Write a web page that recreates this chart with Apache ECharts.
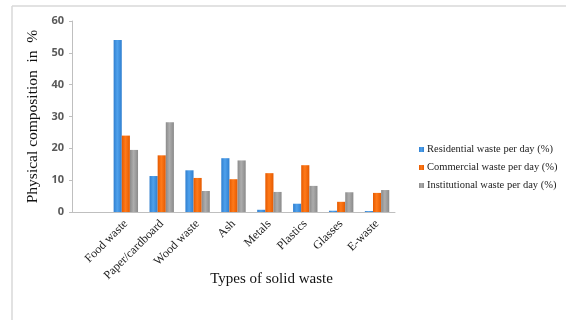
<!DOCTYPE html>
<html>
<head>
<meta charset="utf-8">
<script src="https://cdn.jsdelivr.net/npm/echarts@6/dist/echarts.min.js"></script>
<style>
  html, body { margin: 0; padding: 0; background: #fff; }
  #chart { width: 566px; height: 320px; }
</style>
</head>
<body>
<div id="chart"></div>
<script>
// first slot is empty in the original (bars start one category in)
const categories = ['', 'Food waste', 'Paper/cardboard', 'Wood waste', 'Ash', 'Metals', 'Plastics', 'Glasses', 'E-waste']
const residential = [null, 54, 11.3, 13.1, 16.9, 0.7, 2.6, 0.4, 0.3]
const commercial = [null, 24, 17.8, 10.7, 10.3, 12.2, 14.7, 3.2, 6.0]
const institutional = [null, 19.5, 28.2, 6.6, 16.2, 6.3, 8.2, 6.2, 6.9]
const seriesNames = ['Residential waste per day (%)', 'Commercial waste per day (%)', 'Institutional waste per day (%)']

const serif = '"Liberation Serif", "DejaVu Serif", serif'

function barColor(dark, mid) {
    return new echarts.graphic.LinearGradient(0, 0, 1, 0, [
        { offset: 0, color: dark },
        { offset: 0.45, color: mid },
        { offset: 1, color: dark },
    ])
}

const myChart = echarts.init(document.getElementById('chart'))

const option = {
    animation: false,
    backgroundColor: '#fff',
    color: ['#3f8fdc', '#f96a0c', '#9a9a9a'],
    graphic: [
        { type: 'line', shape: { x1: 12, y1: 6, x2: 566, y2: 6 }, style: { stroke: '#d9d9d9', lineWidth: 1.5 } },
        { type: 'line', shape: { x1: 12, y1: 6, x2: 12, y2: 320 }, style: { stroke: '#d9d9d9', lineWidth: 1.5 } },
    ],
    grid: {
        left: 72,
        right: 171,
        top: 21,
        bottom: 108,
    },
    legend: {
        orient: 'vertical',
        left: 414,
        top: 139,
        itemWidth: 5,
        itemHeight: 5,
        itemGap: 7,
        icon: 'rect',
        textStyle: {
            fontFamily: serif,
            fontSize: 10.5,
            color: '#222',
            padding: [0, 0, 0, -2],
        },
    },
    xAxis: {
        type: 'category',
        data: categories,
        axisLine: { lineStyle: { color: '#bfbfbf' } },
        axisTick: { show: false },
        axisLabel: {
            rotate: 45,
            interval: 0,
            fontFamily: serif,
            fontSize: 12,
            color: '#222',
            margin: 10,
        },
        name: 'Types of solid waste',
        nameLocation: 'middle',
        nameGap: 60,
        nameMoveOverlap: false,
        nameTextStyle: {
            fontFamily: serif,
            fontSize: 15,
            color: '#111',
            padding: [0, 0, 0, 76],
        },
    },
    yAxis: {
        type: 'value',
        min: 0,
        max: 60,
        interval: 10,
        splitLine: { show: false },
        axisLine: { show: true, lineStyle: { color: '#bfbfbf' } },
        axisTick: { show: true, length: 3, lineStyle: { color: '#bfbfbf' } },
        axisLabel: {
            fontFamily: '"Open Sans", "DejaVu Sans", sans-serif',
            fontSize: 11,
            fontWeight: 'bold',
            color: '#595959',
            margin: 8,
        },
        name: 'Physical composition  in  %',
        nameLocation: 'middle',
        nameGap: 31,
        nameTextStyle: {
            fontFamily: serif,
            fontSize: 15.5,
            color: '#111',
        },
    },
    series: [
        {
            name: seriesNames[0],
            type: 'bar',
            data: residential,
            barGap: '0%',
            barCategoryGap: '32%',
            itemStyle: { color: barColor('#2f7fd0', '#4fa1ec') },
        },
        {
            name: seriesNames[1],
            type: 'bar',
            data: commercial,
            itemStyle: { color: barColor('#e55a00', '#ff7a1a') },
        },
        {
            name: seriesNames[2],
            type: 'bar',
            data: institutional,
            itemStyle: { color: barColor('#8a8a8a', '#adadad') },
        },
    ],
}

myChart.setOption(option)
</script>
</body>
</html>
